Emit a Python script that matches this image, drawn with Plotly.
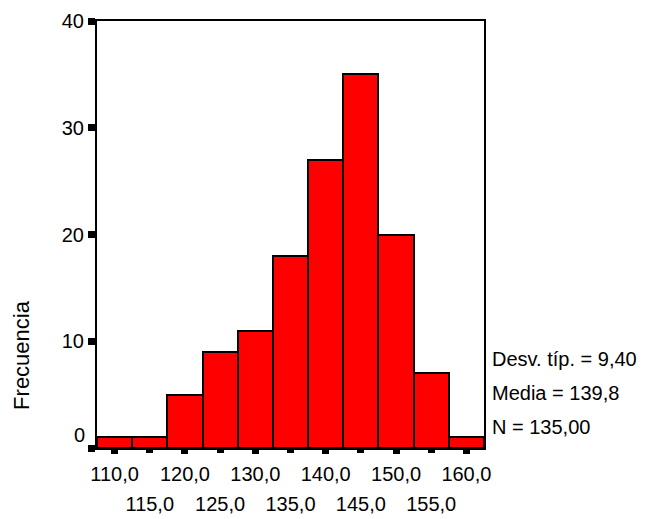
import plotly.graph_objects as go

bin_centers = [110, 115, 120, 125, 130, 135, 140, 145, 150, 155, 160]
counts = [1, 1, 5, 9, 11, 18, 27, 35, 20, 7, 1]
bin_width = 5

x_ticks_row1 = [110, 120, 130, 140, 150, 160]
x_ticks_row2 = [115, 125, 135, 145, 155]
y_ticks = [0, 10, 20, 30, 40]
stats_lines = ["Desv. típ. = 9,40", "Media = 139,8", "N = 135,00"]
y_title = "Frecuencia"

FONT = "Arial, Liberation Sans, sans-serif"
fmt = lambda v: f"{v:.1f}".replace(".", ",")

fig = go.Figure()
fig.add_trace(go.Bar(
    x=bin_centers, y=counts, width=[bin_width] * len(counts),
    marker=dict(color="#FF0000", line=dict(color="black", width=2)),
    showlegend=False, hoverinfo="skip"))
# invisible trace for second tick-label row
fig.add_trace(go.Scatter(x=[bin_centers[0]], y=[0], xaxis="x2", mode="markers",
                         marker=dict(opacity=0), showlegend=False, hoverinfo="skip"))

xr = [bin_centers[0] - bin_width / 2, bin_centers[-1] + bin_width / 2]

fig.update_layout(
    width=650, height=519,
    margin=dict(l=97, r=166, t=21, b=71, autoexpand=False),
    paper_bgcolor="white", plot_bgcolor="white",
    bargap=0,
    font=dict(family=FONT, size=20, color="black"),
    xaxis=dict(range=xr, tickvals=x_ticks_row1, ticktext=[fmt(v) for v in x_ticks_row1],
               ticks="outside", ticklen=4, tickwidth=7, tickcolor="black",
               ticklabelstandoff=3,
               showline=True, linecolor="black", linewidth=2, mirror=True,
               showgrid=False, zeroline=False, tickfont=dict(size=20), automargin=False),
    xaxis2=dict(range=xr, overlaying="x", anchor="y", side="bottom",
                tickvals=x_ticks_row2, ticktext=[fmt(v) for v in x_ticks_row2],
                ticks="outside", ticklen=4, tickwidth=7, tickcolor="black",
                ticklabelstandoff=34, automargin=False,
                showline=False, showgrid=False, zeroline=False, tickfont=dict(size=20)),
    yaxis=dict(range=[0, 40], tickvals=y_ticks,
               ticktext=["" if v == 0 else str(v) for v in y_ticks],
               ticks="outside", ticklen=7, tickwidth=7, tickcolor="black",
               showline=True, linecolor="black", linewidth=2, mirror=True,
               showgrid=False, zeroline=False, tickfont=dict(size=20), automargin=False),
)

fig.add_annotation(x=0, y=y_ticks[0], xref="paper", yref="y", text=str(y_ticks[0]),
                   showarrow=False, xanchor="right", yanchor="middle",
                   xshift=-10, yshift=13, font=dict(size=20))

for i, line in enumerate(stats_lines):
    fig.add_annotation(x=1, y=0.209 - i * 0.0795, xref="paper", yref="paper", text=line,
                       showarrow=False, xanchor="left", yanchor="middle", xshift=6,
                       font=dict(size=20))

fig.add_annotation(x=-0.195, y=0.217, xref="paper", yref="paper", text=y_title,
                   showarrow=False, textangle=-90, xanchor="center", yanchor="middle",
                   font=dict(size=22))

fig.write_html("out.html")
